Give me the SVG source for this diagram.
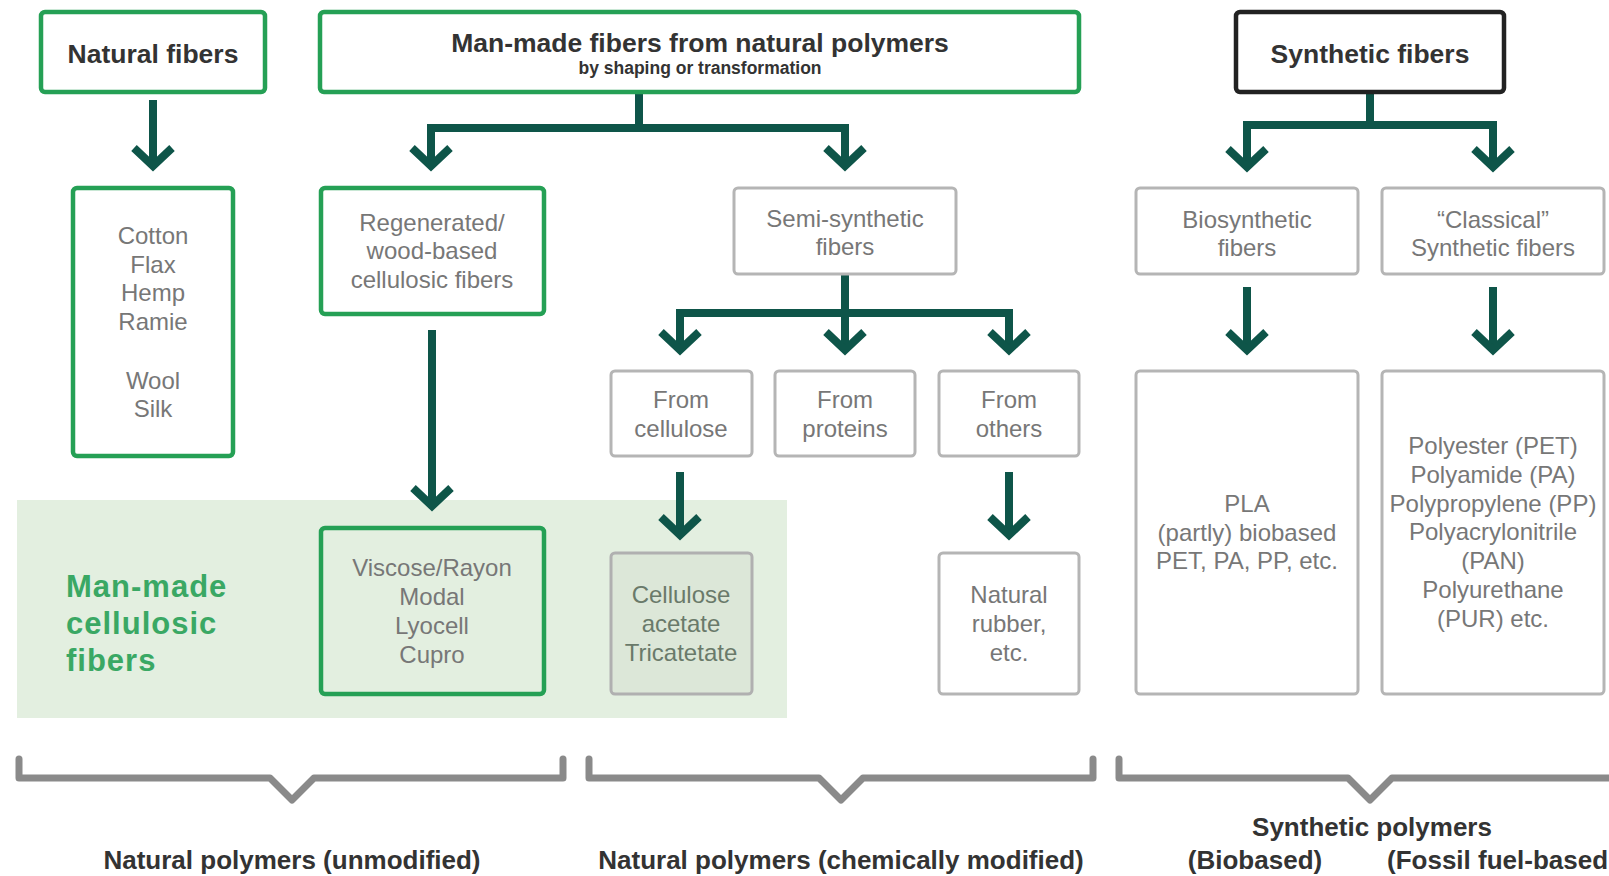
<svg xmlns="http://www.w3.org/2000/svg" width="1609" height="876" viewBox="0 0 1609 876">
<defs>
<style>
.bg{fill:#ffffff}
.band{fill:#e3efe0}
.gbox{fill:none;stroke:#25a055;stroke-width:4.5}
.kbox{fill:#ffffff;stroke:#222222;stroke-width:4.5}
.gray{fill:#ffffff;stroke:#b5b5b5;stroke-width:3}
.grayfill{fill:#dce7d8;stroke:#b0b0b0;stroke-width:3}
.title{font-family:"Liberation Sans",Arial,sans-serif;font-weight:bold;font-size:26.5px;fill:#333333;text-anchor:middle}
.sub{font-family:"Liberation Sans",Arial,sans-serif;font-weight:bold;font-size:17.5px;fill:#333333;text-anchor:middle}
.body{font-family:"Liberation Sans",Arial,sans-serif;font-size:24px;fill:#777777;text-anchor:middle}
.bodyg{font-family:"Liberation Sans",Arial,sans-serif;font-size:24px;fill:#6a7a6a;text-anchor:middle}
.band-label{font-family:"Liberation Sans",Arial,sans-serif;font-weight:bold;font-size:31px;letter-spacing:1px;fill:#3aa864}
.foot{font-family:"Liberation Sans",Arial,sans-serif;font-weight:bold;font-size:26px;fill:#333333;text-anchor:middle}
.conn{fill:none;stroke:#0e5549;stroke-width:8;stroke-linejoin:miter}
.arrow{marker-end:url(#chev)}
.tree{marker-start:url(#chev);marker-end:url(#chev)}
.brace{fill:none;stroke:#8a8a8a;stroke-width:7;stroke-linejoin:round;stroke-linecap:round}
</style>
<marker id="chev" markerUnits="userSpaceOnUse" viewBox="-30 -30 40 60" markerWidth="40" markerHeight="60" refX="0" refY="0" orient="auto-start-reverse" overflow="visible">
<path d="M-18,-19 L0,0 L-18,19" fill="none" stroke="#0e5549" stroke-width="8" stroke-linejoin="miter"/>
</marker>
</defs>
<rect class="bg" x="0" y="0" width="1609" height="876"/>

<g id="band-man-made-cellulosic">
<rect class="band" x="17" y="500" width="770" height="218"/>
<text class="band-label" x="66" y="597">Man-made</text>
<text class="band-label" x="66" y="634">cellulosic</text>
<text class="band-label" x="66" y="671">fibers</text>
</g>

<g id="connectors">
<path class="conn arrow" d="M153,100 V166"/>
<path class="conn" d="M639,92 V128"/>
<path class="conn tree" d="M431,166 V128 H845 V166"/>
<path class="conn arrow" d="M432,330 V506"/>
<path class="conn" d="M845,274 V313"/>
<path class="conn tree" d="M680,350 V313 H1009 V350"/>
<path class="conn arrow" d="M845,313 V350"/>
<path class="conn arrow" d="M680,472 V535"/>
<path class="conn arrow" d="M1009,472 V535"/>
<path class="conn" d="M1370,92 V125"/>
<path class="conn tree" d="M1247,167 V125 H1493 V167"/>
<path class="conn arrow" d="M1247,287 V350"/>
<path class="conn arrow" d="M1493,287 V350"/>
</g>

<g id="natural-fibers">
<rect class="gbox" x="41" y="12" width="224" height="80" rx="4"/>
<text class="title" x="153" y="63">Natural fibers</text>
</g>

<g id="man-made-fibers">
<rect class="gbox" x="320" y="12" width="759" height="80" rx="4"/>
<text class="title" x="700" y="52">Man-made fibers from natural polymers</text>
<text class="sub" x="700" y="74">by shaping or transformation</text>
</g>

<g id="synthetic-fibers">
<rect class="kbox" x="1236" y="12" width="268" height="80" rx="4"/>
<text class="title" x="1370" y="63">Synthetic fibers</text>
</g>

<g id="natural-list">
<rect class="gbox" x="73" y="188" width="160" height="268" rx="4"/>
<text class="body" x="153" y="244">Cotton</text>
<text class="body" x="153" y="273">Flax</text>
<text class="body" x="153" y="301">Hemp</text>
<text class="body" x="153" y="330">Ramie</text>
<text class="body" x="153" y="389">Wool</text>
<text class="body" x="153" y="417">Silk</text>
</g>

<g id="regenerated">
<rect class="gbox" x="321" y="188" width="223" height="126" rx="4"/>
<text class="body" x="432" y="231">Regenerated/</text>
<text class="body" x="432" y="259">wood-based</text>
<text class="body" x="432" y="288">cellulosic fibers</text>
</g>

<g id="semi-synthetic">
<rect class="gray" x="734" y="188" width="222" height="86" rx="4"/>
<text class="body" x="845" y="227">Semi-synthetic</text>
<text class="body" x="845" y="255">fibers</text>
</g>

<g id="from-cellulose">
<rect class="gray" x="611" y="371" width="141" height="85" rx="4"/>
<text class="body" x="681" y="408">From</text>
<text class="body" x="681" y="437">cellulose</text>
</g>

<g id="from-proteins">
<rect class="gray" x="775" y="371" width="140" height="85" rx="4"/>
<text class="body" x="845" y="408">From</text>
<text class="body" x="845" y="437">proteins</text>
</g>

<g id="from-others">
<rect class="gray" x="939" y="371" width="140" height="85" rx="4"/>
<text class="body" x="1009" y="408">From</text>
<text class="body" x="1009" y="437">others</text>
</g>

<g id="viscose">
<rect class="gbox" x="321" y="528" width="223" height="166" rx="4"/>
<text class="body" x="432" y="576">Viscose/Rayon</text>
<text class="body" x="432" y="605">Modal</text>
<text class="body" x="432" y="634">Lyocell</text>
<text class="body" x="432" y="663">Cupro</text>
</g>

<g id="cellulose-acetate">
<rect class="grayfill" x="611" y="553" width="141" height="141" rx="4"/>
<text class="bodyg" x="681" y="603">Cellulose</text>
<text class="bodyg" x="681" y="632">acetate</text>
<text class="bodyg" x="681" y="661">Tricatetate</text>
</g>

<g id="natural-rubber">
<rect class="gray" x="939" y="553" width="140" height="141" rx="4"/>
<text class="body" x="1009" y="603">Natural</text>
<text class="body" x="1009" y="632">rubber,</text>
<text class="body" x="1009" y="661">etc.</text>
</g>

<g id="biosynthetic">
<rect class="gray" x="1136" y="188" width="222" height="86" rx="4"/>
<text class="body" x="1247" y="228">Biosynthetic</text>
<text class="body" x="1247" y="256">fibers</text>
</g>

<g id="classical">
<rect class="gray" x="1382" y="188" width="222" height="86" rx="4"/>
<text class="body" x="1493" y="228">“Classical”</text>
<text class="body" x="1493" y="256">Synthetic fibers</text>
</g>

<g id="pla">
<rect class="gray" x="1136" y="371" width="222" height="323" rx="4"/>
<text class="body" x="1247" y="512">PLA</text>
<text class="body" x="1247" y="541">(partly) biobased</text>
<text class="body" x="1247" y="569">PET, PA, PP, etc.</text>
</g>

<g id="classical-list">
<rect class="gray" x="1382" y="371" width="222" height="323" rx="4"/>
<text class="body" x="1493" y="454">Polyester (PET)</text>
<text class="body" x="1493" y="483">Polyamide (PA)</text>
<text class="body" x="1493" y="512">Polypropylene (PP)</text>
<text class="body" x="1493" y="540">Polyacrylonitrile</text>
<text class="body" x="1493" y="569">(PAN)</text>
<text class="body" x="1493" y="598">Polyurethane</text>
<text class="body" x="1493" y="627">(PUR) etc.</text>
</g>

<g id="braces">
<path class="brace" d="M19,759 V778 H270 L292,800 L314,778 H563 V759"/>
<path class="brace" d="M589,759 V778 H819 L841,800 L863,778 H1093 V759"/>
<path class="brace" d="M1119,759 V778 H1348 L1370,800 L1392,778 H1615"/>
</g>

<g id="footer-labels">
<text class="foot" x="292" y="869">Natural polymers (unmodified)</text>
<text class="foot" x="841" y="869">Natural polymers (chemically modified)</text>
<text class="foot" x="1372" y="836">Synthetic polymers</text>
<text class="foot" x="1255" y="869">(Biobased)</text>
<text class="foot" x="1387" y="869" style="text-anchor:start">(Fossil fuel-based</text>
</g>
</svg>
